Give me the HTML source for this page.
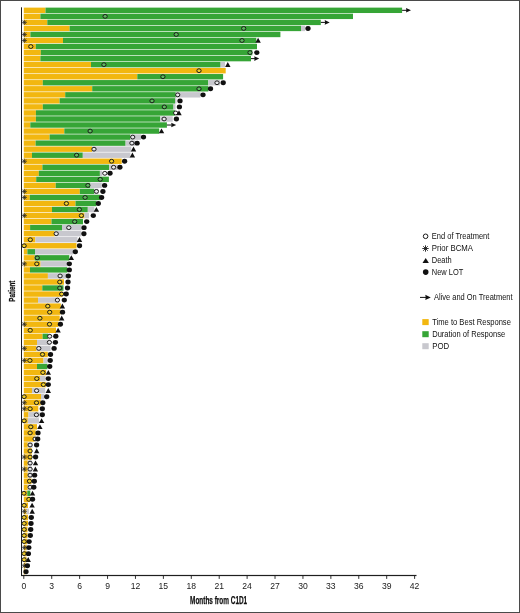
<!DOCTYPE html>
<html><head><meta charset="utf-8"><style>
html,body{margin:0;padding:0;background:#fff;}
body{width:520px;height:613px;overflow:hidden;font-family:"Liberation Sans",sans-serif;}
svg{display:block;will-change:transform;-webkit-font-smoothing:antialiased;}
</style></head><body>
<svg width="520" height="613" viewBox="0 0 520 613" font-family="Liberation Sans, sans-serif" font-size="7.5" fill="#222">
<rect x="0" y="0" width="520" height="613" fill="#fff"/>
<g><rect x="23.8" y="7.62" width="21.7" height="5.4" fill="#F2B710"/><rect x="45.5" y="7.62" width="356.6" height="5.4" fill="#36A536"/><rect x="23.8" y="13.66" width="16.6" height="5.4" fill="#F2B710"/><rect x="40.4" y="13.66" width="312.6" height="5.4" fill="#36A536"/><rect x="23.8" y="19.69" width="23.5" height="5.4" fill="#F2B710"/><rect x="47.3" y="19.69" width="273.5" height="5.4" fill="#36A536"/><rect x="23.8" y="25.73" width="45.8" height="5.4" fill="#F2B710"/><rect x="69.6" y="25.73" width="231.4" height="5.4" fill="#36A536"/><rect x="301" y="25.73" width="4" height="5.4" fill="#C8C8CE"/><rect x="23.8" y="31.77" width="6.6" height="5.4" fill="#F2B710"/><rect x="30.4" y="31.77" width="250" height="5.4" fill="#36A536"/><rect x="23.8" y="37.8" width="39.2" height="5.4" fill="#F2B710"/><rect x="63" y="37.8" width="193.3" height="5.4" fill="#36A536"/><rect x="23.8" y="43.84" width="12" height="5.4" fill="#F2B710"/><rect x="35.8" y="43.84" width="221.2" height="5.4" fill="#36A536"/><rect x="23.8" y="49.88" width="17" height="5.4" fill="#F2B710"/><rect x="40.8" y="49.88" width="211.5" height="5.4" fill="#36A536"/><rect x="23.8" y="55.92" width="16.6" height="5.4" fill="#F2B710"/><rect x="40.4" y="55.92" width="210.6" height="5.4" fill="#36A536"/><rect x="23.8" y="61.95" width="67.2" height="5.4" fill="#F2B710"/><rect x="91" y="61.95" width="129.6" height="5.4" fill="#36A536"/><rect x="220.6" y="61.95" width="4.4" height="5.4" fill="#C8C8CE"/><rect x="23.8" y="67.99" width="201.9" height="5.4" fill="#F2B710"/><rect x="23.8" y="74.03" width="113.5" height="5.4" fill="#F2B710"/><rect x="137.3" y="74.03" width="85.8" height="5.4" fill="#36A536"/><rect x="23.8" y="80.06" width="19" height="5.4" fill="#F2B710"/><rect x="42.8" y="80.06" width="165.5" height="5.4" fill="#36A536"/><rect x="208.3" y="80.06" width="11.7" height="5.4" fill="#C8C8CE"/><rect x="23.8" y="86.1" width="68.4" height="5.4" fill="#F2B710"/><rect x="92.2" y="86.1" width="116.1" height="5.4" fill="#36A536"/><rect x="23.8" y="92.14" width="41.4" height="5.4" fill="#F2B710"/><rect x="65.2" y="92.14" width="110.6" height="5.4" fill="#36A536"/><rect x="175.8" y="92.14" width="24.7" height="5.4" fill="#C8C8CE"/><rect x="23.8" y="98.17" width="35.8" height="5.4" fill="#F2B710"/><rect x="59.6" y="98.17" width="115.4" height="5.4" fill="#36A536"/><rect x="175" y="98.17" width="1.5" height="5.4" fill="#C8C8CE"/><rect x="23.8" y="104.21" width="19" height="5.4" fill="#F2B710"/><rect x="42.8" y="104.21" width="130.7" height="5.4" fill="#36A536"/><rect x="173.5" y="104.21" width="2" height="5.4" fill="#C8C8CE"/><rect x="23.8" y="110.25" width="12.1" height="5.4" fill="#F2B710"/><rect x="35.9" y="110.25" width="139.1" height="5.4" fill="#36A536"/><rect x="23.8" y="116.29" width="12.1" height="5.4" fill="#F2B710"/><rect x="35.9" y="116.29" width="124.3" height="5.4" fill="#36A536"/><rect x="160.2" y="116.29" width="12.5" height="5.4" fill="#C8C8CE"/><rect x="23.8" y="122.32" width="6.5" height="5.4" fill="#F2B710"/><rect x="30.3" y="122.32" width="136.6" height="5.4" fill="#36A536"/><rect x="23.8" y="128.36" width="40.5" height="5.4" fill="#F2B710"/><rect x="64.3" y="128.36" width="94.9" height="5.4" fill="#36A536"/><rect x="23.8" y="134.4" width="25.8" height="5.4" fill="#F2B710"/><rect x="49.6" y="134.4" width="80.8" height="5.4" fill="#36A536"/><rect x="130.4" y="134.4" width="10.6" height="5.4" fill="#C8C8CE"/><rect x="23.8" y="140.43" width="11.8" height="5.4" fill="#F2B710"/><rect x="35.6" y="140.43" width="90" height="5.4" fill="#36A536"/><rect x="125.6" y="140.43" width="9.6" height="5.4" fill="#C8C8CE"/><rect x="23.8" y="146.47" width="68.2" height="5.4" fill="#F2B710"/><rect x="92" y="146.47" width="39.3" height="5.4" fill="#C8C8CE"/><rect x="23.8" y="152.51" width="8.2" height="5.4" fill="#F2B710"/><rect x="32" y="152.51" width="50.8" height="5.4" fill="#36A536"/><rect x="82.8" y="152.51" width="47.6" height="5.4" fill="#C8C8CE"/><rect x="23.8" y="158.55" width="97.9" height="5.4" fill="#F2B710"/><rect x="23.8" y="164.58" width="18.6" height="5.4" fill="#F2B710"/><rect x="42.4" y="164.58" width="66.8" height="5.4" fill="#36A536"/><rect x="109.2" y="164.58" width="8.7" height="5.4" fill="#C8C8CE"/><rect x="23.8" y="170.62" width="15" height="5.4" fill="#F2B710"/><rect x="38.8" y="170.62" width="61.1" height="5.4" fill="#36A536"/><rect x="99.9" y="170.62" width="2.4" height="5.4" fill="#C8C8CE"/><rect x="23.8" y="176.66" width="12.4" height="5.4" fill="#F2B710"/><rect x="36.2" y="176.66" width="72.7" height="5.4" fill="#36A536"/><rect x="23.8" y="182.69" width="31.9" height="5.4" fill="#F2B710"/><rect x="55.7" y="182.69" width="34.7" height="5.4" fill="#36A536"/><rect x="90.4" y="182.69" width="11.4" height="5.4" fill="#C8C8CE"/><rect x="23.8" y="188.73" width="56" height="5.4" fill="#F2B710"/><rect x="79.8" y="188.73" width="14.5" height="5.4" fill="#36A536"/><rect x="94.3" y="188.73" width="4.2" height="5.4" fill="#C8C8CE"/><rect x="23.8" y="194.77" width="6" height="5.4" fill="#F2B710"/><rect x="29.8" y="194.77" width="70.7" height="5.4" fill="#36A536"/><rect x="23.8" y="200.8" width="51.7" height="5.4" fill="#F2B710"/><rect x="75.5" y="200.8" width="20.9" height="5.4" fill="#36A536"/><rect x="23.8" y="206.84" width="28.2" height="5.4" fill="#F2B710"/><rect x="52" y="206.84" width="35.8" height="5.4" fill="#36A536"/><rect x="87.8" y="206.84" width="6.6" height="5.4" fill="#C8C8CE"/><rect x="23.8" y="212.88" width="60.7" height="5.4" fill="#F2B710"/><rect x="84.5" y="212.88" width="4.5" height="5.4" fill="#C8C8CE"/><rect x="23.8" y="218.91" width="27.7" height="5.4" fill="#F2B710"/><rect x="51.5" y="218.91" width="31.5" height="5.4" fill="#36A536"/><rect x="23.8" y="224.95" width="6.3" height="5.4" fill="#F2B710"/><rect x="30.1" y="224.95" width="31.9" height="5.4" fill="#36A536"/><rect x="62" y="224.95" width="19.5" height="5.4" fill="#C8C8CE"/><rect x="23.8" y="230.99" width="30.9" height="5.4" fill="#F2B710"/><rect x="54.7" y="230.99" width="26.5" height="5.4" fill="#C8C8CE"/><rect x="23.8" y="237.03" width="11.6" height="5.4" fill="#F2B710"/><rect x="35.4" y="237.03" width="42.1" height="5.4" fill="#C8C8CE"/><rect x="23.8" y="243.06" width="52.7" height="5.4" fill="#F2B710"/><rect x="23.8" y="249.1" width="3.6" height="5.4" fill="#F2B710"/><rect x="27.4" y="249.1" width="7.6" height="5.4" fill="#36A536"/><rect x="35" y="249.1" width="38" height="5.4" fill="#C8C8CE"/><rect x="23.8" y="255.14" width="10.9" height="5.4" fill="#F2B710"/><rect x="34.7" y="255.14" width="34.6" height="5.4" fill="#36A536"/><rect x="23.8" y="261.17" width="16.8" height="5.4" fill="#F2B710"/><rect x="40.6" y="261.17" width="26.7" height="5.4" fill="#C8C8CE"/><rect x="23.8" y="267.21" width="6.2" height="5.4" fill="#F2B710"/><rect x="30" y="267.21" width="37.3" height="5.4" fill="#36A536"/><rect x="23.8" y="273.25" width="24.1" height="5.4" fill="#F2B710"/><rect x="47.9" y="273.25" width="18.4" height="5.4" fill="#C8C8CE"/><rect x="23.8" y="279.29" width="40.2" height="5.4" fill="#F2B710"/><rect x="23.8" y="285.32" width="18.5" height="5.4" fill="#F2B710"/><rect x="42.3" y="285.32" width="21.2" height="5.4" fill="#36A536"/><rect x="23.8" y="291.36" width="38.7" height="5.4" fill="#F2B710"/><rect x="23.8" y="297.4" width="14.2" height="5.4" fill="#F2B710"/><rect x="38" y="297.4" width="21.3" height="5.4" fill="#C8C8CE"/><rect x="23.8" y="303.43" width="37" height="5.4" fill="#F2B710"/><rect x="23.8" y="309.47" width="36.6" height="5.4" fill="#F2B710"/><rect x="23.8" y="315.51" width="35.9" height="5.4" fill="#F2B710"/><rect x="23.8" y="321.54" width="34.6" height="5.4" fill="#F2B710"/><rect x="23.8" y="327.58" width="32.2" height="5.4" fill="#F2B710"/><rect x="23.8" y="333.62" width="18.8" height="5.4" fill="#F2B710"/><rect x="42.6" y="333.62" width="5.6" height="5.4" fill="#36A536"/><rect x="48.2" y="333.62" width="1.8" height="5.4" fill="#C8C8CE"/><rect x="23.8" y="339.65" width="13.2" height="5.4" fill="#F2B710"/><rect x="37" y="339.65" width="13" height="5.4" fill="#C8C8CE"/><rect x="23.8" y="345.69" width="12.8" height="5.4" fill="#F2B710"/><rect x="36.6" y="345.69" width="14" height="5.4" fill="#C8C8CE"/><rect x="23.8" y="351.73" width="24" height="5.4" fill="#F2B710"/><rect x="23.8" y="357.77" width="19.7" height="5.4" fill="#F2B710"/><rect x="43.5" y="357.77" width="4.1" height="5.4" fill="#C8C8CE"/><rect x="23.8" y="363.8" width="13.2" height="5.4" fill="#F2B710"/><rect x="37" y="363.8" width="10.4" height="5.4" fill="#36A536"/><rect x="23.8" y="369.84" width="22.3" height="5.4" fill="#F2B710"/><rect x="23.8" y="375.88" width="16.2" height="5.4" fill="#F2B710"/><rect x="40" y="375.88" width="5.6" height="5.4" fill="#C8C8CE"/><rect x="23.8" y="381.91" width="22.1" height="5.4" fill="#F2B710"/><rect x="23.8" y="387.95" width="8.2" height="5.4" fill="#F2B710"/><rect x="32" y="387.95" width="13.2" height="5.4" fill="#C8C8CE"/><rect x="23.8" y="393.99" width="17.2" height="5.4" fill="#F2B710"/><rect x="41" y="393.99" width="3" height="5.4" fill="#C8C8CE"/><rect x="23.8" y="400.02" width="16.9" height="5.4" fill="#F2B710"/><rect x="23.8" y="406.06" width="14.5" height="5.4" fill="#F2B710"/><rect x="23.8" y="412.1" width="4.7" height="5.4" fill="#F2B710"/><rect x="28.5" y="412.1" width="11" height="5.4" fill="#C8C8CE"/><rect x="23.8" y="418.14" width="4" height="5.4" fill="#F2B710"/><rect x="27.8" y="418.14" width="11.2" height="5.4" fill="#C8C8CE"/><rect x="23.8" y="424.17" width="13.2" height="5.4" fill="#F2B710"/><rect x="23.8" y="430.21" width="11.9" height="5.4" fill="#F2B710"/><rect x="23.8" y="436.25" width="10.7" height="5.4" fill="#F2B710"/><rect x="23.8" y="442.28" width="4" height="5.4" fill="#F2B710"/><rect x="27.8" y="442.28" width="4.7" height="5.4" fill="#C8C8CE"/><rect x="23.8" y="448.32" width="8.2" height="5.4" fill="#F2B710"/><rect x="23.8" y="454.36" width="8.2" height="5.4" fill="#F2B710"/><rect x="23.8" y="460.39" width="4" height="5.4" fill="#F2B710"/><rect x="27.8" y="460.39" width="4.2" height="5.4" fill="#C8C8CE"/><rect x="23.8" y="466.43" width="4" height="5.4" fill="#F2B710"/><rect x="27.8" y="466.43" width="4.2" height="5.4" fill="#C8C8CE"/><rect x="23.8" y="472.47" width="4" height="5.4" fill="#F2B710"/><rect x="27.8" y="472.47" width="4.2" height="5.4" fill="#C8C8CE"/><rect x="23.8" y="478.51" width="7.7" height="5.4" fill="#F2B710"/><rect x="23.8" y="484.54" width="4" height="5.4" fill="#F2B710"/><rect x="27.8" y="484.54" width="3.7" height="5.4" fill="#C8C8CE"/><rect x="23.8" y="490.58" width="3.5" height="5.4" fill="#F2B710"/><rect x="27.3" y="490.58" width="3" height="5.4" fill="#36A536"/><rect x="23.8" y="496.62" width="6" height="5.4" fill="#F2B710"/><rect x="23.8" y="502.65" width="4.2" height="5.4" fill="#F2B710"/><rect x="23.8" y="508.69" width="2.7" height="5.4" fill="#F2B710"/><rect x="26.5" y="508.69" width="2.5" height="5.4" fill="#C8C8CE"/><rect x="23.8" y="514.73" width="4.2" height="5.4" fill="#F2B710"/><rect x="23.8" y="520.76" width="4.2" height="5.4" fill="#F2B710"/><rect x="23.8" y="526.8" width="3.7" height="5.4" fill="#F2B710"/><rect x="23.8" y="532.84" width="3.7" height="5.4" fill="#F2B710"/><rect x="23.8" y="538.88" width="3.2" height="5.4" fill="#F2B710"/><rect x="23.8" y="544.91" width="2.7" height="5.4" fill="#F2B710"/><rect x="23.8" y="550.95" width="2.7" height="5.4" fill="#F2B710"/><rect x="23.8" y="556.99" width="2.7" height="5.4" fill="#F2B710"/><rect x="23.8" y="563.02" width="1.7" height="5.4" fill="#F2B710"/><rect x="23.8" y="569.06" width="1" height="5.4" fill="#F2B710"/></g>
<g><path d="M21.5 7.3V575" stroke="#1a1a1a" stroke-width="1"/><rect x="21" y="574.9" width="395.5" height="1.2" fill="#1e1e1e"/><path d="M23.8 575.5V578.9M51.72 575.5V578.9M79.63 575.5V578.9M107.55 575.5V578.9M135.46 575.5V578.9M163.38 575.5V578.9M191.29 575.5V578.9M219.21 575.5V578.9M247.12 575.5V578.9M275.03 575.5V578.9M302.95 575.5V578.9M330.87 575.5V578.9M358.78 575.5V578.9M386.69 575.5V578.9M414.61 575.5V578.9" stroke="#1a1a1a" stroke-width="0.9"/></g>
<g><path d="M402.1 10.32H408" stroke="#111" stroke-width="1"/><path d="M411 10.32L406 8.02L406.4 10.32L406 12.62Z" fill="#111"/><ellipse cx="105.1" cy="16.36" rx="2.15" ry="1.9" fill="#5DBA5D" stroke="#1a1a1a" stroke-width="1"/><path d="M21.7 22.39L26.9 22.39M22.46 20.56L26.14 24.23M24.3 19.79L24.3 24.99M26.14 20.56L22.46 24.23" stroke="#2a2a2a" stroke-width="0.75" fill="none"/><path d="M320.8 22.39H326.7" stroke="#111" stroke-width="1"/><path d="M329.7 22.39L324.7 20.09L325.1 22.39L324.7 24.69Z" fill="#111"/><ellipse cx="243.7" cy="28.43" rx="2.15" ry="1.9" fill="#5DBA5D" stroke="#1a1a1a" stroke-width="1"/><ellipse cx="308" cy="28.43" rx="2.65" ry="2.4499999999999997" fill="#111"/><path d="M21.7 34.47L26.9 34.47M22.46 32.63L26.14 36.31M24.3 31.87L24.3 37.07M26.14 32.63L22.46 36.31" stroke="#2a2a2a" stroke-width="0.75" fill="none"/><ellipse cx="176.2" cy="34.47" rx="2.15" ry="1.9" fill="#5DBA5D" stroke="#1a1a1a" stroke-width="1"/><path d="M21.7 40.5L26.9 40.5M22.46 38.67L26.14 42.34M24.3 37.9L24.3 43.1M26.14 38.67L22.46 42.34" stroke="#2a2a2a" stroke-width="0.75" fill="none"/><ellipse cx="242" cy="40.5" rx="2.15" ry="1.9" fill="#5DBA5D" stroke="#1a1a1a" stroke-width="1"/><path d="M258.1 37.85L260.8 42.75L255.4 42.75Z" fill="#111"/><ellipse cx="30.8" cy="46.54" rx="2.15" ry="1.9" fill="#F2CF2A" stroke="#1a1a1a" stroke-width="1"/><ellipse cx="250" cy="52.58" rx="2.15" ry="1.9" fill="#5DBA5D" stroke="#1a1a1a" stroke-width="1"/><ellipse cx="256.8" cy="52.58" rx="2.65" ry="2.4499999999999997" fill="#111"/><path d="M251 58.62H256.2" stroke="#111" stroke-width="1"/><path d="M259.2 58.62L254.2 56.32L254.6 58.62L254.2 60.92Z" fill="#111"/><ellipse cx="103.9" cy="64.65" rx="2.15" ry="1.9" fill="#5DBA5D" stroke="#1a1a1a" stroke-width="1"/><path d="M227.8 62L230.5 66.9L225.1 66.9Z" fill="#111"/><ellipse cx="199" cy="70.69" rx="2.15" ry="1.9" fill="#F2CF2A" stroke="#1a1a1a" stroke-width="1"/><ellipse cx="162.9" cy="76.73" rx="2.15" ry="1.9" fill="#5DBA5D" stroke="#1a1a1a" stroke-width="1"/><ellipse cx="217" cy="82.76" rx="2.15" ry="1.9" fill="#E6E6EA" stroke="#1a1a1a" stroke-width="1"/><ellipse cx="223.2" cy="82.76" rx="2.65" ry="2.4499999999999997" fill="#111"/><ellipse cx="199" cy="88.8" rx="2.15" ry="1.9" fill="#5DBA5D" stroke="#1a1a1a" stroke-width="1"/><ellipse cx="210.5" cy="88.8" rx="2.65" ry="2.4499999999999997" fill="#111"/><ellipse cx="177.7" cy="94.84" rx="2.15" ry="1.9" fill="#E6E6EA" stroke="#1a1a1a" stroke-width="1"/><ellipse cx="203" cy="94.84" rx="2.65" ry="2.4499999999999997" fill="#111"/><ellipse cx="152" cy="100.88" rx="2.15" ry="1.9" fill="#5DBA5D" stroke="#1a1a1a" stroke-width="1"/><ellipse cx="180" cy="100.88" rx="2.65" ry="2.4499999999999997" fill="#111"/><ellipse cx="164.3" cy="106.91" rx="2.15" ry="1.9" fill="#5DBA5D" stroke="#1a1a1a" stroke-width="1"/><ellipse cx="179.4" cy="106.91" rx="2.65" ry="2.4499999999999997" fill="#111"/><ellipse cx="175.7" cy="112.95" rx="2.15" ry="1.9" fill="#F8F8F8" stroke="#1a1a1a" stroke-width="1"/><path d="M179 110.3L181.7 115.2L176.3 115.2Z" fill="#111"/><ellipse cx="164.1" cy="118.99" rx="2.15" ry="1.9" fill="#E6E6EA" stroke="#1a1a1a" stroke-width="1"/><ellipse cx="176.4" cy="118.99" rx="2.65" ry="2.4499999999999997" fill="#111"/><path d="M166.9 125.02H173.2" stroke="#111" stroke-width="1"/><path d="M176.2 125.02L171.2 122.72L171.6 125.02L171.2 127.32Z" fill="#111"/><ellipse cx="90.1" cy="131.06" rx="2.15" ry="1.9" fill="#5DBA5D" stroke="#1a1a1a" stroke-width="1"/><path d="M161.5 128.41L164.2 133.31L158.8 133.31Z" fill="#111"/><ellipse cx="132.7" cy="137.1" rx="2.15" ry="1.9" fill="#E6E6EA" stroke="#1a1a1a" stroke-width="1"/><ellipse cx="143.5" cy="137.1" rx="2.65" ry="2.4499999999999997" fill="#111"/><ellipse cx="131.9" cy="143.13" rx="2.15" ry="1.9" fill="#E6E6EA" stroke="#1a1a1a" stroke-width="1"/><ellipse cx="137.1" cy="143.13" rx="2.65" ry="2.4499999999999997" fill="#111"/><ellipse cx="94" cy="149.17" rx="2.15" ry="1.9" fill="#E6E6EA" stroke="#1a1a1a" stroke-width="1"/><path d="M133.5 146.52L136.2 151.42L130.8 151.42Z" fill="#111"/><ellipse cx="76.6" cy="155.21" rx="2.15" ry="1.9" fill="#5DBA5D" stroke="#1a1a1a" stroke-width="1"/><path d="M132.4 152.56L135.1 157.46L129.7 157.46Z" fill="#111"/><path d="M21.7 161.25L26.9 161.25M22.46 159.41L26.14 163.08M24.3 158.65L24.3 163.84M26.14 159.41L22.46 163.08" stroke="#2a2a2a" stroke-width="0.75" fill="none"/><ellipse cx="111.6" cy="161.25" rx="2.15" ry="1.9" fill="#F2CF2A" stroke="#1a1a1a" stroke-width="1"/><ellipse cx="124.6" cy="161.25" rx="2.65" ry="2.4499999999999997" fill="#111"/><ellipse cx="113.6" cy="167.28" rx="2.15" ry="1.9" fill="#E6E6EA" stroke="#1a1a1a" stroke-width="1"/><ellipse cx="119.9" cy="167.28" rx="2.65" ry="2.4499999999999997" fill="#111"/><ellipse cx="104.8" cy="173.32" rx="2.15" ry="1.9" fill="#F8F8F8" stroke="#1a1a1a" stroke-width="1"/><ellipse cx="110" cy="173.32" rx="2.65" ry="2.4499999999999997" fill="#111"/><ellipse cx="100.2" cy="179.36" rx="2.15" ry="1.9" fill="#5DBA5D" stroke="#1a1a1a" stroke-width="1"/><ellipse cx="87.9" cy="185.39" rx="2.15" ry="1.9" fill="#5DBA5D" stroke="#1a1a1a" stroke-width="1"/><ellipse cx="104.6" cy="185.39" rx="2.65" ry="2.4499999999999997" fill="#111"/><path d="M21.7 191.43L26.9 191.43M22.46 189.59L26.14 193.27M24.3 188.83L24.3 194.03M26.14 189.59L22.46 193.27" stroke="#2a2a2a" stroke-width="0.75" fill="none"/><ellipse cx="96.4" cy="191.43" rx="2.15" ry="1.9" fill="#E6E6EA" stroke="#1a1a1a" stroke-width="1"/><ellipse cx="102.9" cy="191.43" rx="2.65" ry="2.4499999999999997" fill="#111"/><path d="M21.7 197.47L26.9 197.47M22.46 195.63L26.14 199.31M24.3 194.87L24.3 200.07M26.14 195.63L22.46 199.31" stroke="#2a2a2a" stroke-width="0.75" fill="none"/><ellipse cx="85.1" cy="197.47" rx="2.15" ry="1.9" fill="#5DBA5D" stroke="#1a1a1a" stroke-width="1"/><ellipse cx="101.6" cy="197.47" rx="2.65" ry="2.4499999999999997" fill="#111"/><ellipse cx="66.4" cy="203.5" rx="2.15" ry="1.9" fill="#F2CF2A" stroke="#1a1a1a" stroke-width="1"/><ellipse cx="98.3" cy="203.5" rx="2.65" ry="2.4499999999999997" fill="#111"/><ellipse cx="79.4" cy="209.54" rx="2.15" ry="1.9" fill="#5DBA5D" stroke="#1a1a1a" stroke-width="1"/><path d="M96.4 206.89L99.1 211.79L93.7 211.79Z" fill="#111"/><path d="M21.7 215.58L26.9 215.58M22.46 213.74L26.14 217.42M24.3 212.98L24.3 218.18M26.14 213.74L22.46 217.42" stroke="#2a2a2a" stroke-width="0.75" fill="none"/><ellipse cx="81.4" cy="215.58" rx="2.15" ry="1.9" fill="#F2CF2A" stroke="#1a1a1a" stroke-width="1"/><ellipse cx="93.3" cy="215.58" rx="2.65" ry="2.4499999999999997" fill="#111"/><ellipse cx="74.7" cy="221.61" rx="2.15" ry="1.9" fill="#5DBA5D" stroke="#1a1a1a" stroke-width="1"/><ellipse cx="86.7" cy="221.61" rx="2.65" ry="2.4499999999999997" fill="#111"/><ellipse cx="68.8" cy="227.65" rx="2.15" ry="1.9" fill="#E6E6EA" stroke="#1a1a1a" stroke-width="1"/><ellipse cx="84" cy="227.65" rx="2.65" ry="2.4499999999999997" fill="#111"/><ellipse cx="56.2" cy="233.69" rx="2.15" ry="1.9" fill="#E6E6EA" stroke="#1a1a1a" stroke-width="1"/><ellipse cx="83.9" cy="233.69" rx="2.65" ry="2.4499999999999997" fill="#111"/><ellipse cx="30.3" cy="239.73" rx="2.15" ry="1.9" fill="#F2CF2A" stroke="#1a1a1a" stroke-width="1"/><path d="M79.5 237.08L82.2 241.98L76.8 241.98Z" fill="#111"/><ellipse cx="24.1" cy="245.76" rx="2.15" ry="1.9" fill="#F2CF2A" stroke="#1a1a1a" stroke-width="1"/><ellipse cx="79.5" cy="245.76" rx="2.65" ry="2.4499999999999997" fill="#111"/><ellipse cx="75.3" cy="251.8" rx="2.65" ry="2.4499999999999997" fill="#111"/><ellipse cx="37.2" cy="257.84" rx="2.15" ry="1.9" fill="#5DBA5D" stroke="#1a1a1a" stroke-width="1"/><path d="M71.3 255.19L74 260.09L68.6 260.09Z" fill="#111"/><path d="M21.7 263.87L26.9 263.87M22.46 262.04L26.14 265.71M24.3 261.27L24.3 266.47M26.14 262.04L22.46 265.71" stroke="#2a2a2a" stroke-width="0.75" fill="none"/><ellipse cx="36.8" cy="263.87" rx="2.15" ry="1.9" fill="#F2CF2A" stroke="#1a1a1a" stroke-width="1"/><ellipse cx="69.3" cy="263.87" rx="2.65" ry="2.4499999999999997" fill="#111"/><ellipse cx="69.3" cy="269.91" rx="2.65" ry="2.4499999999999997" fill="#111"/><ellipse cx="60.1" cy="275.95" rx="2.15" ry="1.9" fill="#E6E6EA" stroke="#1a1a1a" stroke-width="1"/><ellipse cx="68.3" cy="275.95" rx="2.65" ry="2.4499999999999997" fill="#111"/><ellipse cx="59.8" cy="281.99" rx="2.15" ry="1.9" fill="#F2CF2A" stroke="#1a1a1a" stroke-width="1"/><ellipse cx="68" cy="281.99" rx="2.65" ry="2.4499999999999997" fill="#111"/><ellipse cx="59.8" cy="288.02" rx="2.15" ry="1.9" fill="#5DBA5D" stroke="#1a1a1a" stroke-width="1"/><ellipse cx="67.5" cy="288.02" rx="2.65" ry="2.4499999999999997" fill="#111"/><ellipse cx="61.7" cy="294.06" rx="2.15" ry="1.9" fill="#F2CF2A" stroke="#1a1a1a" stroke-width="1"/><ellipse cx="66.2" cy="294.06" rx="2.65" ry="2.4499999999999997" fill="#111"/><ellipse cx="57.4" cy="300.1" rx="2.15" ry="1.9" fill="#E6E6EA" stroke="#1a1a1a" stroke-width="1"/><ellipse cx="64.3" cy="300.1" rx="2.65" ry="2.4499999999999997" fill="#111"/><ellipse cx="47.8" cy="306.13" rx="2.15" ry="1.9" fill="#F2CF2A" stroke="#1a1a1a" stroke-width="1"/><path d="M62.4 303.48L65.1 308.38L59.7 308.38Z" fill="#111"/><ellipse cx="49.7" cy="312.17" rx="2.15" ry="1.9" fill="#F2CF2A" stroke="#1a1a1a" stroke-width="1"/><ellipse cx="62.5" cy="312.17" rx="2.65" ry="2.4499999999999997" fill="#111"/><ellipse cx="39.9" cy="318.21" rx="2.15" ry="1.9" fill="#F2CF2A" stroke="#1a1a1a" stroke-width="1"/><path d="M61.7 315.56L64.4 320.46L59 320.46Z" fill="#111"/><path d="M21.7 324.24L26.9 324.24M22.46 322.41L26.14 326.08M24.3 321.64L24.3 326.84M26.14 322.41L22.46 326.08" stroke="#2a2a2a" stroke-width="0.75" fill="none"/><ellipse cx="49.5" cy="324.24" rx="2.15" ry="1.9" fill="#F2CF2A" stroke="#1a1a1a" stroke-width="1"/><ellipse cx="60.4" cy="324.24" rx="2.65" ry="2.4499999999999997" fill="#111"/><ellipse cx="30.2" cy="330.28" rx="2.15" ry="1.9" fill="#F2CF2A" stroke="#1a1a1a" stroke-width="1"/><path d="M58.1 327.63L60.8 332.53L55.4 332.53Z" fill="#111"/><ellipse cx="49.7" cy="336.32" rx="2.15" ry="1.9" fill="#E6E6EA" stroke="#1a1a1a" stroke-width="1"/><ellipse cx="55.8" cy="336.32" rx="2.65" ry="2.4499999999999997" fill="#111"/><ellipse cx="49.4" cy="342.35" rx="2.15" ry="1.9" fill="#E6E6EA" stroke="#1a1a1a" stroke-width="1"/><ellipse cx="55.4" cy="342.35" rx="2.65" ry="2.4499999999999997" fill="#111"/><path d="M21.7 348.39L26.9 348.39M22.46 346.55L26.14 350.23M24.3 345.79L24.3 350.99M26.14 346.55L22.46 350.23" stroke="#2a2a2a" stroke-width="0.75" fill="none"/><ellipse cx="38.8" cy="348.39" rx="2.15" ry="1.9" fill="#E6E6EA" stroke="#1a1a1a" stroke-width="1"/><ellipse cx="54.1" cy="348.39" rx="2.65" ry="2.4499999999999997" fill="#111"/><ellipse cx="42.5" cy="354.43" rx="2.15" ry="1.9" fill="#F2CF2A" stroke="#1a1a1a" stroke-width="1"/><ellipse cx="50.5" cy="354.43" rx="2.65" ry="2.4499999999999997" fill="#111"/><path d="M21.7 360.47L26.9 360.47M22.46 358.63L26.14 362.3M24.3 357.87L24.3 363.07M26.14 358.63L22.46 362.3" stroke="#2a2a2a" stroke-width="0.75" fill="none"/><ellipse cx="29.9" cy="360.47" rx="2.15" ry="1.9" fill="#F2CF2A" stroke="#1a1a1a" stroke-width="1"/><ellipse cx="50.2" cy="360.47" rx="2.65" ry="2.4499999999999997" fill="#111"/><ellipse cx="49.7" cy="366.5" rx="2.65" ry="2.4499999999999997" fill="#111"/><ellipse cx="42.9" cy="372.54" rx="2.15" ry="1.9" fill="#F2CF2A" stroke="#1a1a1a" stroke-width="1"/><path d="M48.3 369.89L51 374.79L45.6 374.79Z" fill="#111"/><ellipse cx="36.8" cy="378.58" rx="2.15" ry="1.9" fill="#F2CF2A" stroke="#1a1a1a" stroke-width="1"/><ellipse cx="48.3" cy="378.58" rx="2.65" ry="2.4499999999999997" fill="#111"/><ellipse cx="43.4" cy="384.61" rx="2.15" ry="1.9" fill="#F2CF2A" stroke="#1a1a1a" stroke-width="1"/><ellipse cx="48.3" cy="384.61" rx="2.65" ry="2.4499999999999997" fill="#111"/><ellipse cx="36.6" cy="390.65" rx="2.15" ry="1.9" fill="#E6E6EA" stroke="#1a1a1a" stroke-width="1"/><path d="M48.3 388L51 392.9L45.6 392.9Z" fill="#111"/><ellipse cx="24.1" cy="396.69" rx="2.15" ry="1.9" fill="#F2CF2A" stroke="#1a1a1a" stroke-width="1"/><ellipse cx="46.7" cy="396.69" rx="2.65" ry="2.4499999999999997" fill="#111"/><path d="M21.7 402.72L26.9 402.72M22.46 400.89L26.14 404.56M24.3 400.12L24.3 405.32M26.14 400.89L22.46 404.56" stroke="#2a2a2a" stroke-width="0.75" fill="none"/><ellipse cx="36.5" cy="402.72" rx="2.15" ry="1.9" fill="#F2CF2A" stroke="#1a1a1a" stroke-width="1"/><ellipse cx="42.8" cy="402.72" rx="2.65" ry="2.4499999999999997" fill="#111"/><path d="M21.7 408.76L26.9 408.76M22.46 406.92L26.14 410.6M24.3 406.16L24.3 411.36M26.14 406.92L22.46 410.6" stroke="#2a2a2a" stroke-width="0.75" fill="none"/><ellipse cx="30.1" cy="408.76" rx="2.15" ry="1.9" fill="#F2CF2A" stroke="#1a1a1a" stroke-width="1"/><ellipse cx="42.3" cy="408.76" rx="2.65" ry="2.4499999999999997" fill="#111"/><ellipse cx="36.4" cy="414.8" rx="2.15" ry="1.9" fill="#E6E6EA" stroke="#1a1a1a" stroke-width="1"/><ellipse cx="42.3" cy="414.8" rx="2.65" ry="2.4499999999999997" fill="#111"/><ellipse cx="24.1" cy="420.84" rx="2.15" ry="1.9" fill="#F2CF2A" stroke="#1a1a1a" stroke-width="1"/><path d="M41.6 418.19L44.3 423.09L38.9 423.09Z" fill="#111"/><ellipse cx="30.8" cy="426.87" rx="2.15" ry="1.9" fill="#F2CF2A" stroke="#1a1a1a" stroke-width="1"/><path d="M39.9 424.22L42.6 429.12L37.2 429.12Z" fill="#111"/><ellipse cx="30.1" cy="432.91" rx="2.15" ry="1.9" fill="#F2CF2A" stroke="#1a1a1a" stroke-width="1"/><ellipse cx="38" cy="432.91" rx="2.65" ry="2.4499999999999997" fill="#111"/><ellipse cx="35.1" cy="438.95" rx="2.15" ry="1.9" fill="#F8F8F8" stroke="#1a1a1a" stroke-width="1"/><ellipse cx="37.7" cy="438.95" rx="2.65" ry="2.4499999999999997" fill="#111"/><ellipse cx="30.1" cy="444.98" rx="2.15" ry="1.9" fill="#E6E6EA" stroke="#1a1a1a" stroke-width="1"/><ellipse cx="36.6" cy="444.98" rx="2.65" ry="2.4499999999999997" fill="#111"/><ellipse cx="30.1" cy="451.02" rx="2.15" ry="1.9" fill="#F2CF2A" stroke="#1a1a1a" stroke-width="1"/><path d="M36.7 448.37L39.4 453.27L34 453.27Z" fill="#111"/><path d="M21.7 457.06L26.9 457.06M22.46 455.22L26.14 458.9M24.3 454.46L24.3 459.66M26.14 455.22L22.46 458.9" stroke="#2a2a2a" stroke-width="0.75" fill="none"/><ellipse cx="30.1" cy="457.06" rx="2.15" ry="1.9" fill="#F2CF2A" stroke="#1a1a1a" stroke-width="1"/><ellipse cx="35.6" cy="457.06" rx="2.65" ry="2.4499999999999997" fill="#111"/><ellipse cx="30.1" cy="463.09" rx="2.15" ry="1.9" fill="#E6E6EA" stroke="#1a1a1a" stroke-width="1"/><path d="M35.5 460.44L38.2 465.34L32.8 465.34Z" fill="#111"/><path d="M21.7 469.13L26.9 469.13M22.46 467.29L26.14 470.97M24.3 466.53L24.3 471.73M26.14 467.29L22.46 470.97" stroke="#2a2a2a" stroke-width="0.75" fill="none"/><ellipse cx="30.1" cy="469.13" rx="2.15" ry="1.9" fill="#E6E6EA" stroke="#1a1a1a" stroke-width="1"/><path d="M35.4 466.48L38.1 471.38L32.7 471.38Z" fill="#111"/><ellipse cx="30.1" cy="475.17" rx="2.15" ry="1.9" fill="#E6E6EA" stroke="#1a1a1a" stroke-width="1"/><ellipse cx="34.6" cy="475.17" rx="2.65" ry="2.4499999999999997" fill="#111"/><ellipse cx="29.5" cy="481.21" rx="2.15" ry="1.9" fill="#F2CF2A" stroke="#1a1a1a" stroke-width="1"/><ellipse cx="34.3" cy="481.21" rx="2.65" ry="2.4499999999999997" fill="#111"/><ellipse cx="30.1" cy="487.24" rx="2.15" ry="1.9" fill="#E6E6EA" stroke="#1a1a1a" stroke-width="1"/><ellipse cx="33.8" cy="487.24" rx="2.65" ry="2.4499999999999997" fill="#111"/><ellipse cx="23.9" cy="493.28" rx="2.15" ry="1.9" fill="#F2CF2A" stroke="#1a1a1a" stroke-width="1"/><path d="M32.5 490.63L35.2 495.53L29.8 495.53Z" fill="#111"/><ellipse cx="28.9" cy="499.32" rx="2.15" ry="1.9" fill="#F2CF2A" stroke="#1a1a1a" stroke-width="1"/><ellipse cx="32.5" cy="499.32" rx="2.65" ry="2.4499999999999997" fill="#111"/><ellipse cx="24.1" cy="505.35" rx="2.15" ry="1.9" fill="#F2CF2A" stroke="#1a1a1a" stroke-width="1"/><path d="M32.1 502.7L34.8 507.6L29.4 507.6Z" fill="#111"/><path d="M21.7 511.39L26.9 511.39M22.46 509.55L26.14 513.23M24.3 508.79L24.3 513.99M26.14 509.55L22.46 513.23" stroke="#2a2a2a" stroke-width="0.75" fill="none"/><path d="M32.2 508.74L34.9 513.64L29.5 513.64Z" fill="#111"/><ellipse cx="24.1" cy="517.43" rx="2.15" ry="1.9" fill="#F2CF2A" stroke="#1a1a1a" stroke-width="1"/><ellipse cx="31.3" cy="517.43" rx="2.65" ry="2.4499999999999997" fill="#111"/><ellipse cx="24.1" cy="523.47" rx="2.15" ry="1.9" fill="#F2CF2A" stroke="#1a1a1a" stroke-width="1"/><ellipse cx="31" cy="523.47" rx="2.65" ry="2.4499999999999997" fill="#111"/><ellipse cx="24.1" cy="529.5" rx="2.15" ry="1.9" fill="#F2CF2A" stroke="#1a1a1a" stroke-width="1"/><ellipse cx="30.7" cy="529.5" rx="2.65" ry="2.4499999999999997" fill="#111"/><ellipse cx="24.1" cy="535.54" rx="2.15" ry="1.9" fill="#F2CF2A" stroke="#1a1a1a" stroke-width="1"/><ellipse cx="30.3" cy="535.54" rx="2.65" ry="2.4499999999999997" fill="#111"/><ellipse cx="24.1" cy="541.58" rx="2.15" ry="1.9" fill="#F2CF2A" stroke="#1a1a1a" stroke-width="1"/><ellipse cx="29.1" cy="541.58" rx="2.65" ry="2.4499999999999997" fill="#111"/><path d="M21.7 547.61L26.9 547.61M22.46 545.77L26.14 549.45M24.3 545.01L24.3 550.21M26.14 545.77L22.46 549.45" stroke="#2a2a2a" stroke-width="0.75" fill="none"/><ellipse cx="28.8" cy="547.61" rx="2.65" ry="2.4499999999999997" fill="#111"/><ellipse cx="24.1" cy="553.65" rx="2.15" ry="1.9" fill="#F2CF2A" stroke="#1a1a1a" stroke-width="1"/><ellipse cx="28.4" cy="553.65" rx="2.65" ry="2.4499999999999997" fill="#111"/><ellipse cx="24.1" cy="559.69" rx="2.15" ry="1.9" fill="#F2CF2A" stroke="#1a1a1a" stroke-width="1"/><path d="M28.2 557.04L30.9 561.94L25.5 561.94Z" fill="#111"/><path d="M21.7 565.72L26.9 565.72M22.46 563.89L26.14 567.56M24.3 563.12L24.3 568.32M26.14 563.89L22.46 567.56" stroke="#2a2a2a" stroke-width="0.75" fill="none"/><ellipse cx="27.4" cy="565.72" rx="2.65" ry="2.4499999999999997" fill="#111"/><ellipse cx="26" cy="571.76" rx="2.65" ry="2.4499999999999997" fill="#111"/></g>
<g fill="#1a1a1a"><text x="23.8" y="589.2" text-anchor="middle" font-size="8.6">0</text><text x="51.72" y="589.2" text-anchor="middle" font-size="8.6">3</text><text x="79.63" y="589.2" text-anchor="middle" font-size="8.6">6</text><text x="107.55" y="589.2" text-anchor="middle" font-size="8.6">9</text><text x="135.46" y="589.2" text-anchor="middle" font-size="8.6">12</text><text x="163.38" y="589.2" text-anchor="middle" font-size="8.6">15</text><text x="191.29" y="589.2" text-anchor="middle" font-size="8.6">18</text><text x="219.21" y="589.2" text-anchor="middle" font-size="8.6">21</text><text x="247.12" y="589.2" text-anchor="middle" font-size="8.6">24</text><text x="275.03" y="589.2" text-anchor="middle" font-size="8.6">27</text><text x="302.95" y="589.2" text-anchor="middle" font-size="8.6">30</text><text x="330.87" y="589.2" text-anchor="middle" font-size="8.6">33</text><text x="358.78" y="589.2" text-anchor="middle" font-size="8.6">36</text><text x="386.69" y="589.2" text-anchor="middle" font-size="8.6">39</text><text x="414.61" y="589.2" text-anchor="middle" font-size="8.6">42</text></g>
<g fill="#111"><ellipse cx="425.6" cy="236.3" rx="2.3" ry="2.3" fill="#fff" stroke="#1a1a1a" stroke-width="1"/><text x="431.8" y="238.6" textLength="57.5" lengthAdjust="spacingAndGlyphs" font-size="8.6">End of Treatment</text><path d="M422.3 248.5L428.7 248.5M423.24 246.24L427.76 250.76M425.5 245.3L425.5 251.7M427.76 246.24L423.24 250.76" stroke="#1a1a1a" stroke-width="0.9" fill="none"/><text x="431.8" y="250.5" textLength="41.2" lengthAdjust="spacingAndGlyphs" font-size="8.6">Prior BCMA</text><path d="M425.7 257.9L428.9 263.1L422.5 263.1Z" fill="#111"/><text x="431.8" y="262.6" textLength="19.9" lengthAdjust="spacingAndGlyphs" font-size="8.6">Death</text><ellipse cx="425.7" cy="272.1" rx="2.8" ry="2.8" fill="#111"/><text x="431.8" y="274.6" textLength="31.5" lengthAdjust="spacingAndGlyphs" font-size="8.6">New LOT</text><path d="M420 297.4H427.8" stroke="#111" stroke-width="1"/><path d="M430.8 297.4L425.3 294.8L425.7 297.4L425.3 300Z" fill="#111"/><text x="433.9" y="299.8" textLength="78.7" lengthAdjust="spacingAndGlyphs" font-size="8.6">Alive and On Treatment</text><rect x="422.3" y="319.1" width="6.4" height="6" fill="#F2B710"/><text x="432.2" y="324.8" textLength="78.7" lengthAdjust="spacingAndGlyphs" font-size="8.6">Time to Best Response</text><rect x="422.3" y="331.2" width="6.4" height="6" fill="#36A536"/><text x="432.2" y="336.7" textLength="73" lengthAdjust="spacingAndGlyphs" font-size="8.6">Duration of Response</text><rect x="422.3" y="343.2" width="6.4" height="6" fill="#C8C8CE"/><text x="432.2" y="348.9" textLength="16.9" lengthAdjust="spacingAndGlyphs" font-size="8.6">POD</text></g>
<text x="190.1" y="603.6" textLength="57.1" lengthAdjust="spacingAndGlyphs" font-size="10.3" font-weight="bold" fill="#111" stroke="#111" stroke-width="0.25">Months from C1D1</text><text transform="translate(15.4 301.7) rotate(-90)" x="0" y="0" textLength="21.1" lengthAdjust="spacingAndGlyphs" font-size="9.9" font-weight="bold" fill="#111" stroke="#111" stroke-width="0.25">Patient</text>
<rect x="0.5" y="0.5" width="519" height="612" fill="none" stroke="#4a4a4a" stroke-width="1"/>
</svg>
</body></html>
